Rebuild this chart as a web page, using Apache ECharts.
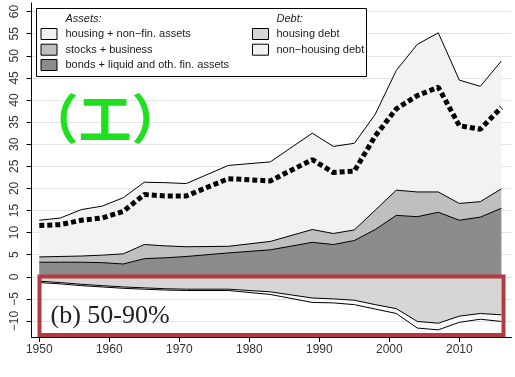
<!DOCTYPE html>
<html><head><meta charset="utf-8">
<script src="https://cdn.jsdelivr.net/npm/echarts@6/dist/echarts.min.js"></script>
<style>html,body{margin:0;padding:0;background:#fff}#c{width:515px;height:377px}</style>
</head><body><div id="c"></div>
<script>
var years = [1950,1953,1956,1959,1962,1965,1968,1971,1977,1983,1989,1992,1995,1998,2001,2004,2007,2010,2013,2016];
var bonds = [3.3,3.3,3.3,3.2,2.9,4.1,4.3,4.6,5.4,6.1,7.8,7.3,8.2,10.7,13.9,13.6,14.6,12.8,13.5,15.5];
var stocks = [1.2,1.3,1.4,1.7,2.3,3.2,2.7,2.2,1.5,1.9,2.9,2.5,2.4,4.4,5.7,5.6,4.6,3.8,3.5,4.4];
var housing = [8.3,8.7,10.5,11.1,12.7,14.1,14.3,14.3,18.3,18.0,21.8,19.7,19.6,21.7,27.1,33.4,36.0,27.9,26.1,28.9];
var housingDebt = [-1.0,-1.3,-1.7,-2.0,-2.3,-2.5,-2.7,-2.8,-2.8,-3.4,-4.8,-5.0,-5.3,-6.3,-7.2,-10.1,-10.5,-8.9,-8.3,-8.6];
var nonHousingDebt = [-0.3,-0.3,-0.3,-0.3,-0.3,-0.3,-0.3,-0.3,-0.3,-0.6,-1.0,-0.9,-1.0,-1.0,-1.1,-1.5,-1.5,-1.4,-1.3,-1.5];
var netWealth = [11.6,11.8,12.8,13.3,14.8,18.6,18.3,18.3,22.2,21.7,26.5,23.6,23.9,31.9,38.0,41.0,42.9,34.2,33.4,38.3];
var xTicks = [1950,1960,1970,1980,1990,2000,2010];
var yTicks = [-10,-5,0,5,10,15,20,25,30,35,40,45,50,55,60];
var legendAssets = ['housing + non\u2212fin. assets','stocks + business','bonds + liquid and oth. fin. assets'];
var legendDebt = ['housing debt','non\u2212housing debt'];

// cumulative layers (stack built here; value x-axis cannot stack)
function cum(list){ return years.map(function(_,i){ var s=0; list.forEach(function(a){ s+=a[i]; }); return [years[i], +s.toFixed(3)]; }); }
function area(name, data, color, z){
  return {name:name, type:'line', data:data, symbol:'none', z:z,
    lineStyle:{color:'#000', width:1}, areaStyle:{color:color, opacity:1, origin:0}, silent:true};
}
var chart = echarts.init(document.getElementById('c'), null, {renderer:'canvas'});
var FONT = 'Liberation Sans';
var lg = [];
lg.push({type:'rect', shape:{x:36.5,y:8.5,width:330,height:68}, style:{fill:'#fff',stroke:'#000',lineWidth:1}, z:50});
lg.push({type:'text', x:65.5, y:19, style:{text:'Assets:', font:'italic 11px '+FONT, fill:'#1a1a1a', verticalAlign:'middle'}, z:51});
lg.push({type:'text', x:276.5, y:19, style:{text:'Debt:', font:'italic 11px '+FONT, fill:'#1a1a1a', verticalAlign:'middle'}, z:51});
var aCols = ['#f2f2f2','#bfbfbf','#8c8c8c'];
var rowsY = [34,49.7,65];
legendAssets.forEach(function(t,i){
  lg.push({type:'rect', shape:{x:41,y:rowsY[i]-5.5,width:16,height:11}, style:{fill:aCols[i],stroke:'#000',lineWidth:1}, z:51});
  lg.push({type:'text', x:65.5, y:rowsY[i], style:{text:t, font:'11px '+FONT, fill:'#1a1a1a', verticalAlign:'middle'}, z:51});
});
var dCols = ['#d6d6d6','#f2f2f2'];
legendDebt.forEach(function(t,i){
  lg.push({type:'rect', shape:{x:252.5,y:rowsY[i]-5.5,width:16,height:11}, style:{fill:dCols[i],stroke:'#000',lineWidth:1}, z:51});
  lg.push({type:'text', x:276.5, y:rowsY[i], style:{text:t, font:'11px '+FONT, fill:'#1a1a1a', verticalAlign:'middle'}, z:51});
});
lg.push({type:'text', x:105, y:119, style:{text:'\uFF08\u5DE5\uFF09', font:'bold 53px "Noto Sans CJK SC"', fill:'#1fe01f', align:'center', verticalAlign:'middle'}, z:60});
lg.push({type:'rect', shape:{x:39.5,y:276.5,width:464,height:58.5}, style:{fill:'none',stroke:'#b23a40',lineWidth:4}, z:70});
lg.push({type:'text', x:50.5, y:316, style:{text:'(b) 50-90%', font:'26px "Liberation Serif"', fill:'#222', verticalAlign:'middle'}, z:71});

chart.setOption({
  animation:false,
  grid:{left:31.5, right:3.5, top:3, bottom:40, containLabel:false},
  xAxis:{type:'value', min:1948.886, max:2017.457,
    axisLine:{show:true, onZero:false, lineStyle:{color:'#000',width:1}},
    axisTick:{show:true, length:5, customValues:xTicks, lineStyle:{color:'#000'}},
    axisLabel:{customValues:xTicks, color:'#333', fontSize:12, fontFamily:FONT, margin:7,
      formatter:function(v){ return String(v); }},
    splitLine:{show:false}},
  yAxis:{type:'value', min:-13.62, max:61.95,
    axisLine:{show:true, onZero:false, lineStyle:{color:'#000',width:1}},
    axisTick:{show:true, length:5, customValues:yTicks, lineStyle:{color:'#000'}},
    axisLabel:{customValues:yTicks, rotate:90, color:'#333', fontSize:12, fontFamily:FONT, margin:11,
      formatter:function(v){ return v<0 ? '\u2212'+(-v) : String(v); }},
    splitLine:{show:true, lineStyle:{color:'#e4e4e4', width:1}}},
  series:[
    area('housing', cum([bonds,stocks,housing]), '#f2f2f2', 2),
    area('stocks', cum([bonds,stocks]), '#bfbfbf', 3),
    area('bonds', cum([bonds]), '#8c8c8c', 4),
    area('nonHousingDebt', cum([housingDebt,nonHousingDebt]), '#f8f8f8', 2),
    area('housingDebt', cum([housingDebt]), '#d6d6d6', 3),
    {name:'net', type:'line', data:years.map(function(y,i){return [y,netWealth[i]];}), symbol:'none', z:6, silent:true,
      lineStyle:{color:'#000', width:5, type:[5,3], cap:'butt'}}
  ],
  graphic:lg
});
</script></body></html>
